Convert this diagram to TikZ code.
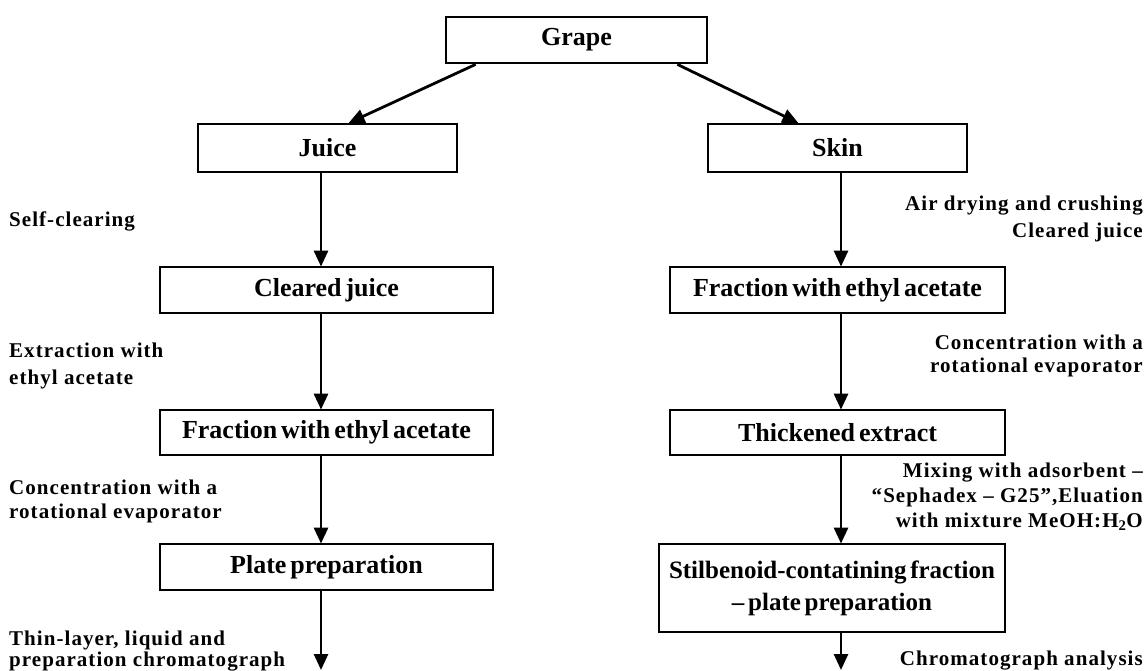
\documentclass[tikz,border=0pt]{standalone}
\usepackage{fontspec}
\setmainfont{Liberation Serif}
\newfontfamily\boxfont[Ligatures=TeX,WordSpace=0.6]{Liberation Serif}
\newfontfamily\lblfont[Ligatures=TeX,LetterSpace=5]{Liberation Serif}
\usetikzlibrary{arrows.meta}
\begin{document}
\begin{tikzpicture}[x=1pt,y=-1pt,
  box/.style={draw,line width=2.8pt,rectangle,inner sep=0pt,align=center,
    font=\boxfont\fontsize{26}{30}\selectfont\bfseries},
  arr/.style={line width=2.8pt,-{Triangle[length=16pt,width=14pt]},shorten >=-1pt},
  lbl/.style={inner sep=0pt,font=\lblfont\fontsize{21}{24}\selectfont\bfseries}]
\fill[white] (0,0) rectangle (1148,670);
\useasboundingbox (0,0) rectangle (1148,670);
% boxes
\node[box,minimum width=261pt,minimum height=46pt] (grape) at (576.5,40) {Grape};
\node[box,minimum width=259pt,minimum height=48pt] (juice) at (327.5,148) {Juice};
\node[box,minimum width=259pt,minimum height=48pt] (skin) at (837.5,148) {Skin};
\node[box,minimum width=333pt,minimum height=46pt] (cj) at (326.5,290) {Cleared juice};
\node[box,minimum width=335pt,minimum height=46pt] (fr) at (837.5,290) {Fraction with ethyl acetate};
\node[box,minimum width=333pt,minimum height=45pt] (fl) at (326.5,432.5) {Fraction with ethyl acetate};
\node[box,minimum width=335pt,minimum height=45pt] (th) at (837.5,432.5) {Thickened extract};
\node[box,minimum width=333pt,minimum height=46pt] (pl) at (326.5,567) {Plate preparation};
\node[box,minimum width=346pt,minimum height=88pt,font=\boxfont\fontsize{25}{29}\selectfont\bfseries] (st) at (832,588) {Stilbenoid-contatining fraction\\[3pt]– plate preparation};
% column guides
\coordinate (lx) at (321,0);
\coordinate (rx) at (841,0);
\coordinate (endL) at (321,669);
\coordinate (endR) at (841,669);
% connectors
\draw[arr] ([xshift=31pt]grape.south west) -- ([xshift=22pt]juice.north);
\draw[arr] ([xshift=-31pt]grape.south east) -- ([xshift=-40pt]skin.north);
\draw[arr] (juice.south -| lx) -- (cj.north -| lx);
\draw[arr] (cj.south -| lx) -- (fl.north -| lx);
\draw[arr] (fl.south -| lx) -- (pl.north -| lx);
\draw[arr] (pl.south -| lx) -- (endL);
\draw[arr] (skin.south -| rx) -- (fr.north -| rx);
\draw[arr] (fr.south -| rx) -- (th.north -| rx);
\draw[arr] (th.south -| rx) -- (st.north -| rx);
\draw[arr] (st.south -| rx) -- (endR);
% left labels
\node[lbl,anchor=base west] (l1) at (9,226) {Self-clearing};
\node[lbl,anchor=base west] (l2a) at (9,357) {Extraction with};
\node[lbl,anchor=base west] (l2b) at (9,384) {ethyl acetate};
\node[lbl,anchor=base west] (l3a) at (9,494) {Concentration with a};
\node[lbl,anchor=base west] (l3b) at (9,518) {rotational evaporator};
\node[lbl,anchor=base west] (l4a) at (9,645) {Thin-layer, liquid and};
\node[lbl,anchor=base west] (l4b) at (9,666) {preparation chromatograph};
% right labels
\node[lbl,anchor=base east] (r1a) at (1143,210) {Air drying and crushing};
\node[lbl,anchor=base east] (r1b) at (1143,237) {Cleared juice};
\node[lbl,anchor=base east] (r2a) at (1143,349) {Concentration with a};
\node[lbl,anchor=base east] (r2b) at (1143,372) {rotational evaporator};
\node[lbl,anchor=base east] (r3a) at (1143,477) {Mixing with adsorbent –};
\node[lbl,anchor=base east] (r3b) at (1143,502) {“Sephadex – G25”,Eluation};
\node[lbl,anchor=base east] (r3c) at (1143,527) {with mixture MeOH:H\textsubscript{2}O};
\node[lbl,anchor=base east] (r4) at (1143,665) {Chromatograph analysis};
\end{tikzpicture}
\end{document}
